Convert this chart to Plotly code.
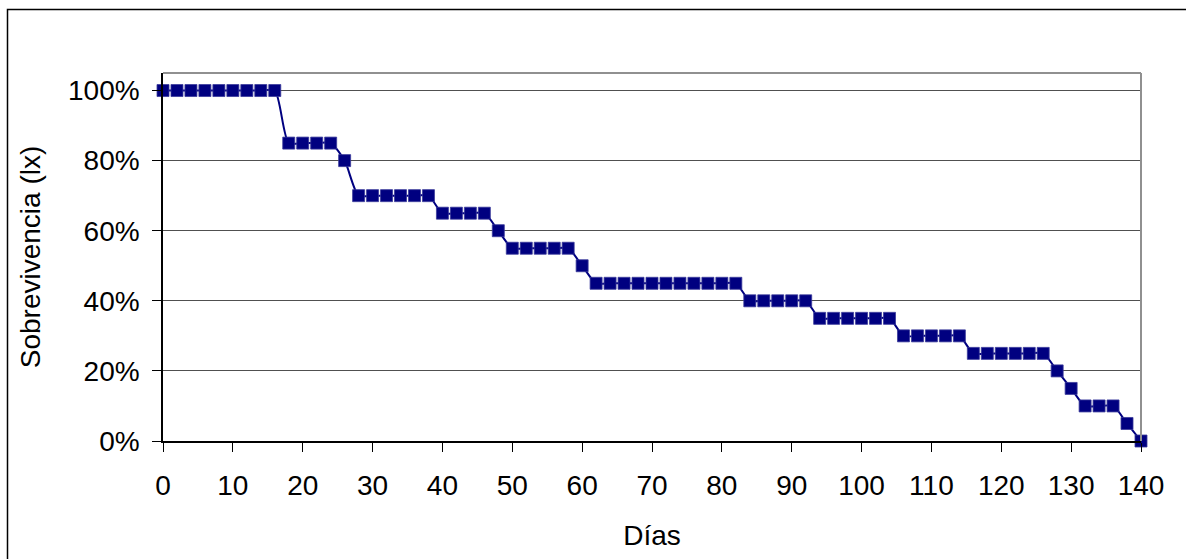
import plotly.graph_objects as go

# Data
dias = [0, 2, 4, 6, 8, 10, 12, 14, 16,
        18, 20, 22, 24,
        26,
        28, 30, 32, 34, 36, 38,
        40, 42, 44, 46,
        48,
        50, 52, 54, 56, 58,
        60,
        62, 64, 66, 68, 70, 72, 74, 76, 78, 80, 82,
        84, 86, 88, 90, 92,
        94, 96, 98, 100, 102, 104,
        106, 108, 110, 112, 114,
        116, 118, 120, 122, 124, 126,
        128,
        130,
        132, 134, 136,
        138,
        140]
sobrevivencia = [1.00, 1.00, 1.00, 1.00, 1.00, 1.00, 1.00, 1.00, 1.00,
                 0.85, 0.85, 0.85, 0.85,
                 0.80,
                 0.70, 0.70, 0.70, 0.70, 0.70, 0.70,
                 0.65, 0.65, 0.65, 0.65,
                 0.60,
                 0.55, 0.55, 0.55, 0.55, 0.55,
                 0.50,
                 0.45, 0.45, 0.45, 0.45, 0.45, 0.45, 0.45, 0.45, 0.45, 0.45, 0.45,
                 0.40, 0.40, 0.40, 0.40, 0.40,
                 0.35, 0.35, 0.35, 0.35, 0.35, 0.35,
                 0.30, 0.30, 0.30, 0.30, 0.30,
                 0.25, 0.25, 0.25, 0.25, 0.25, 0.25,
                 0.20,
                 0.15,
                 0.10, 0.10, 0.10,
                 0.05,
                 0.00]
x_ticks = [0, 10, 20, 30, 40, 50, 60, 70, 80, 90, 100, 110, 120, 130, 140]
y_ticks = [0, 0.2, 0.4, 0.6, 0.8, 1.0]
y_tick_labels = ["0%", "20%", "40%", "60%", "80%", "100%"]

W, H = 1186, 559
L, R, T, B = 163, 45, 73, 118

FONT = "Liberation Sans, Arial, sans-serif"
NAVY = "#000080"

fig = go.Figure()
fig.add_trace(go.Scatter(
    x=dias, y=sobrevivencia,
    mode="lines+markers",
    line=dict(color=NAVY, width=2, shape="spline", smoothing=0.7),
    marker=dict(symbol="square", size=12, color=NAVY, line=dict(width=0.8, color="#3a3a9a")),
    cliponaxis=False,
    showlegend=False,
))

pw = W - L - R
ph = H - T - B

def px_x(p):
    return (p - L) / pw

def px_y(p):
    return (H - B - p) / ph

fig.update_layout(
    width=W, height=H,
    margin=dict(l=L, r=R, t=T, b=B, pad=0),
    paper_bgcolor="white",
    plot_bgcolor="white",
    font=dict(family=FONT, size=28, color="black"),
    xaxis=dict(
        range=[0, 140],
        tickvals=x_ticks,
        ticks="outside", ticklen=9, tickwidth=1, tickcolor="black",
        showline=True, linecolor="black", linewidth=2,
        showgrid=False, zeroline=False,
        tickfont=dict(size=28, family=FONT, color="black"),
        title=dict(text="Días", font=dict(size=28, family=FONT, color="black"), standoff=26),
        ticklabelstandoff=9,
    ),
    yaxis=dict(
        range=[0, 1.05],
        tickvals=y_ticks, ticktext=y_tick_labels,
        ticks="outside", ticklen=9, tickwidth=1, tickcolor="black",
        showline=True, linecolor="black", linewidth=1.5,
        showgrid=True, gridcolor="#505050", gridwidth=1,
        zeroline=False,
        tickfont=dict(size=28, family=FONT, color="black"),
        title=dict(text="Sobrevivencia (lx)", font=dict(size=28, family=FONT, color="black"), standoff=19),
        ticklabelstandoff=7,
    ),
    shapes=[
        # plot area top/right border (gray)
        dict(type="line", xref="paper", yref="paper", x0=0, x1=1, y0=1, y1=1,
             line=dict(color="#909090", width=2), layer="above"),
        dict(type="line", xref="paper", yref="paper", x0=1, x1=1, y0=0, y1=1,
             line=dict(color="#909090", width=2), layer="above"),
        # outer chart border
        dict(type="rect", xref="paper", yref="paper",
             x0=px_x(7.5), x1=px_x(W + 20), y0=px_y(9.5), y1=px_y(H + 20),
             line=dict(color="black", width=1.5), fillcolor="rgba(0,0,0,0)", layer="below"),
    ],
)

fig.write_html("out.html")
